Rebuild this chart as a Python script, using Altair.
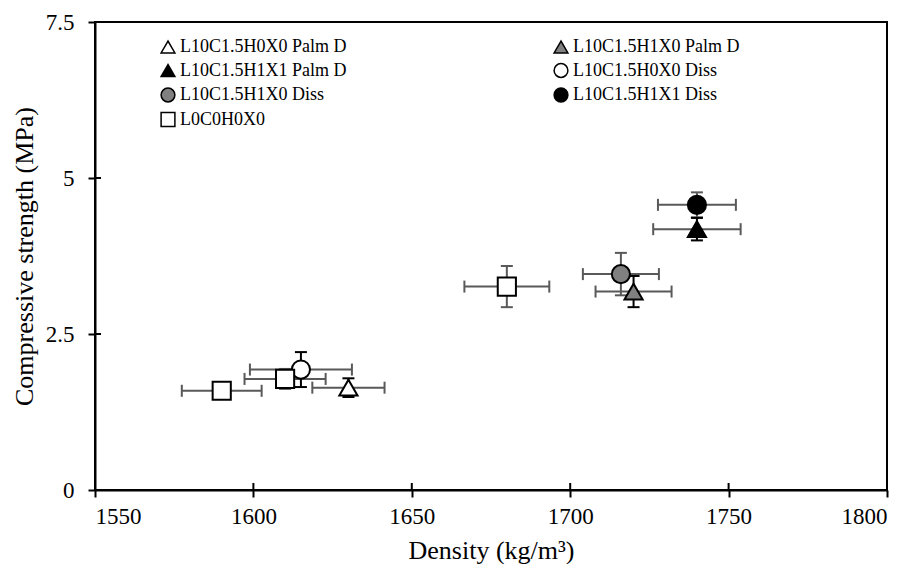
import altair as alt
import pandas as pd

# ---- data ----
series_order = [
    "L10C1.5H0X0 Palm D",
    "L10C1.5H1X0 Palm D",
    "L10C1.5H1X1 Palm D",
    "L10C1.5H0X0 Diss",
    "L10C1.5H1X0 Diss",
    "L10C1.5H1X1 Diss",
    "L0C0H0X0",
]
point_series = [
    "L10C1.5H0X0 Palm D",
    "L10C1.5H1X0 Palm D",
    "L10C1.5H1X1 Palm D",
    "L10C1.5H0X0 Diss",
    "L10C1.5H1X0 Diss",
    "L10C1.5H1X1 Diss",
    "L0C0H0X0",
    "L0C0H0X0",
    "L0C0H0X0",
]
density = [1630, 1720, 1740, 1615, 1716, 1740, 1590, 1610, 1680]
strength = [1.64, 3.18, 4.18, 1.93, 3.46, 4.57, 1.59, 1.78, 3.26]
density_err = [11.4, 12.0, 13.8, 16.1, 12.0, 12.3, 12.6, 12.8, 13.4]
strength_err = [0.15, 0.25, 0.18, 0.28, 0.34, 0.20, 0.10, 0.16, 0.33]

x_ticks = [1550, 1600, 1650, 1700, 1750, 1800]
y_ticks = [0, 2.5, 5, 7.5]

# ---- styling ----
shape_of = {
    "L10C1.5H0X0 Palm D": "triangle-up",
    "L10C1.5H1X0 Palm D": "triangle-up",
    "L10C1.5H1X1 Palm D": "triangle-up",
    "L10C1.5H0X0 Diss": "circle",
    "L10C1.5H1X0 Diss": "circle",
    "L10C1.5H1X1 Diss": "circle",
    "L0C0H0X0": "square",
}
fill_of = {
    "L10C1.5H0X0 Palm D": "white",
    "L10C1.5H1X0 Palm D": "#808080",
    "L10C1.5H1X1 Palm D": "black",
    "L10C1.5H0X0 Diss": "white",
    "L10C1.5H1X0 Diss": "#808080",
    "L10C1.5H1X1 Diss": "black",
    "L0C0H0X0": "white",
}
vbar_color = {
    "L10C1.5H0X0 Palm D": "black",
    "L10C1.5H1X0 Palm D": "black",
    "L10C1.5H1X1 Palm D": "black",
    "L10C1.5H0X0 Diss": "black",
    "L10C1.5H1X0 Diss": "#595959",
    "L10C1.5H1X1 Diss": "#595959",
    "L0C0H0X0": "#595959",
}
FONT = "Liberation Serif"
HBAR = "#595959"

# legend lays entries out column by column: reorder so the picture reads row by row
ncol = 2
nrow = -(-len(series_order) // ncol)
legend_domain = [series_order[r * ncol + c] for c in range(ncol) for r in range(nrow)
                 if r * ncol + c < len(series_order)]

df = pd.DataFrame({
    "series": point_series,
    "density": density,
    "strength": strength,
    "dx": density_err,
    "dy": strength_err,
})
df["xlo"] = df["density"] - df["dx"]
df["xhi"] = df["density"] + df["dx"]
df["ylo"] = df["strength"] - df["dy"]
df["yhi"] = df["strength"] + df["dy"]
df["vcol"] = df["series"].map(vbar_color)
df["order"] = range(len(df))

xs = alt.Scale(domain=[1550, 1800], nice=False, zero=False)
ys = alt.Scale(domain=[0, 7.5], nice=False, zero=False)
x_axis = alt.Axis(values=x_ticks, title="Density (kg/m³)", grid=False, format="d",
                  titleBaseline="alphabetic", titleY=68)
y_axis = alt.Axis(values=y_ticks, title="Compressive strength (MPa)", grid=False,
                  labelExpr="datum.value == 0 ? '0' : format(datum.value, '~g')")


def X(field):
    return alt.X(f"{field}:Q", scale=xs, axis=x_axis, title="Density (kg/m³)")


def Y(field):
    return alt.Y(f"{field}:Q", scale=ys, axis=y_axis, title="Compressive strength (MPa)")


base = alt.Chart(df)

h_bar = base.mark_rule(color=HBAR, strokeWidth=2).encode(x=X("xlo"), x2="xhi", y=Y("strength"))
h_cap_lo = base.mark_rule(color=HBAR, strokeWidth=2, yOffset=-6, y2Offset=6).encode(
    x=X("xlo"), y=Y("strength"), y2="strength")
h_cap_hi = base.mark_rule(color=HBAR, strokeWidth=2, yOffset=-6, y2Offset=6).encode(
    x=X("xhi"), y=Y("strength"), y2="strength")

v_bar = base.mark_rule(strokeWidth=2).encode(
    x=X("density"), y=Y("ylo"), y2="yhi", color=alt.Color("vcol:N", scale=None))
v_cap_lo = base.mark_rule(strokeWidth=2, xOffset=-6, x2Offset=6).encode(
    x=X("density"), x2="density", y=Y("ylo"), color=alt.Color("vcol:N", scale=None))
v_cap_hi = base.mark_rule(strokeWidth=2, xOffset=-6, x2Offset=6).encode(
    x=X("density"), x2="density", y=Y("yhi"), color=alt.Color("vcol:N", scale=None))

# inner halves of the axis ticks (the reference ticks cross the axis line)
xt = pd.DataFrame({"v": x_ticks, "y0": [0] * len(x_ticks)})
yt = pd.DataFrame({"v": y_ticks, "x0": [1550] * len(y_ticks)})
x_inner = alt.Chart(xt).mark_rule(color="black", strokeWidth=2, y2Offset=-7).encode(
    x=X("v"), y=Y("y0"), y2="y0")
y_inner = alt.Chart(yt).mark_rule(color="black", strokeWidth=2, x2Offset=6).encode(
    x=X("x0"), x2="x0", y=Y("v"))

legend = alt.Legend(
    title=None,
    orient="none",
    legendX=64,
    legendY=16,
    columns=ncol,
    columnPadding=204,
    rowPadding=4.5,
    symbolSize=190,
    symbolStrokeColor="black",
    symbolStrokeWidth=1.5,
    labelFont=FONT,
    labelFontSize=18,
    labelColor="black",
    labelOffset=3,
    labelLimit=400,
)

points = base.mark_point(filled=True, strokeWidth=2, size=330, opacity=1).encode(
    x=X("density"),
    y=Y("strength"),
    shape=alt.Shape("series:N", scale=alt.Scale(domain=legend_domain,
                    range=[shape_of[s] for s in legend_domain]), legend=legend),
    fill=alt.Fill("series:N", scale=alt.Scale(domain=legend_domain,
                  range=[fill_of[s] for s in legend_domain]), legend=legend),
    stroke=alt.Stroke("series:N", scale=alt.Scale(domain=legend_domain,
                      range=["black"] * len(legend_domain)), legend=legend),
    order="order:Q",
)

chart = alt.layer(
    x_inner, y_inner, h_bar, h_cap_lo, h_cap_hi, v_bar, v_cap_lo, v_cap_hi, points
).properties(
    width=792,
    height=468,
    autosize=alt.AutoSizeParams(type="none"),
    padding={"left": 87, "top": 14, "right": 18, "bottom": 74},
    background="white",
).configure_view(
    stroke="black", strokeWidth=2
).configure_axis(
    domainColor="black",
    domainWidth=2,
    tickColor="black",
    tickWidth=2,
    tickSize=7,
    labelFont=FONT,
    labelFontSize=23,
    labelColor="black",
    titleFont=FONT,
    titleFontSize=26,
    titleFontWeight="normal",
    titleColor="black",
).configure_axisX(
    labelPadding=8
).configure_axisY(
    labelPadding=14, titlePadding=8
)

chart.save("out.html", embed_options={"renderer": "svg", "actions": False})
